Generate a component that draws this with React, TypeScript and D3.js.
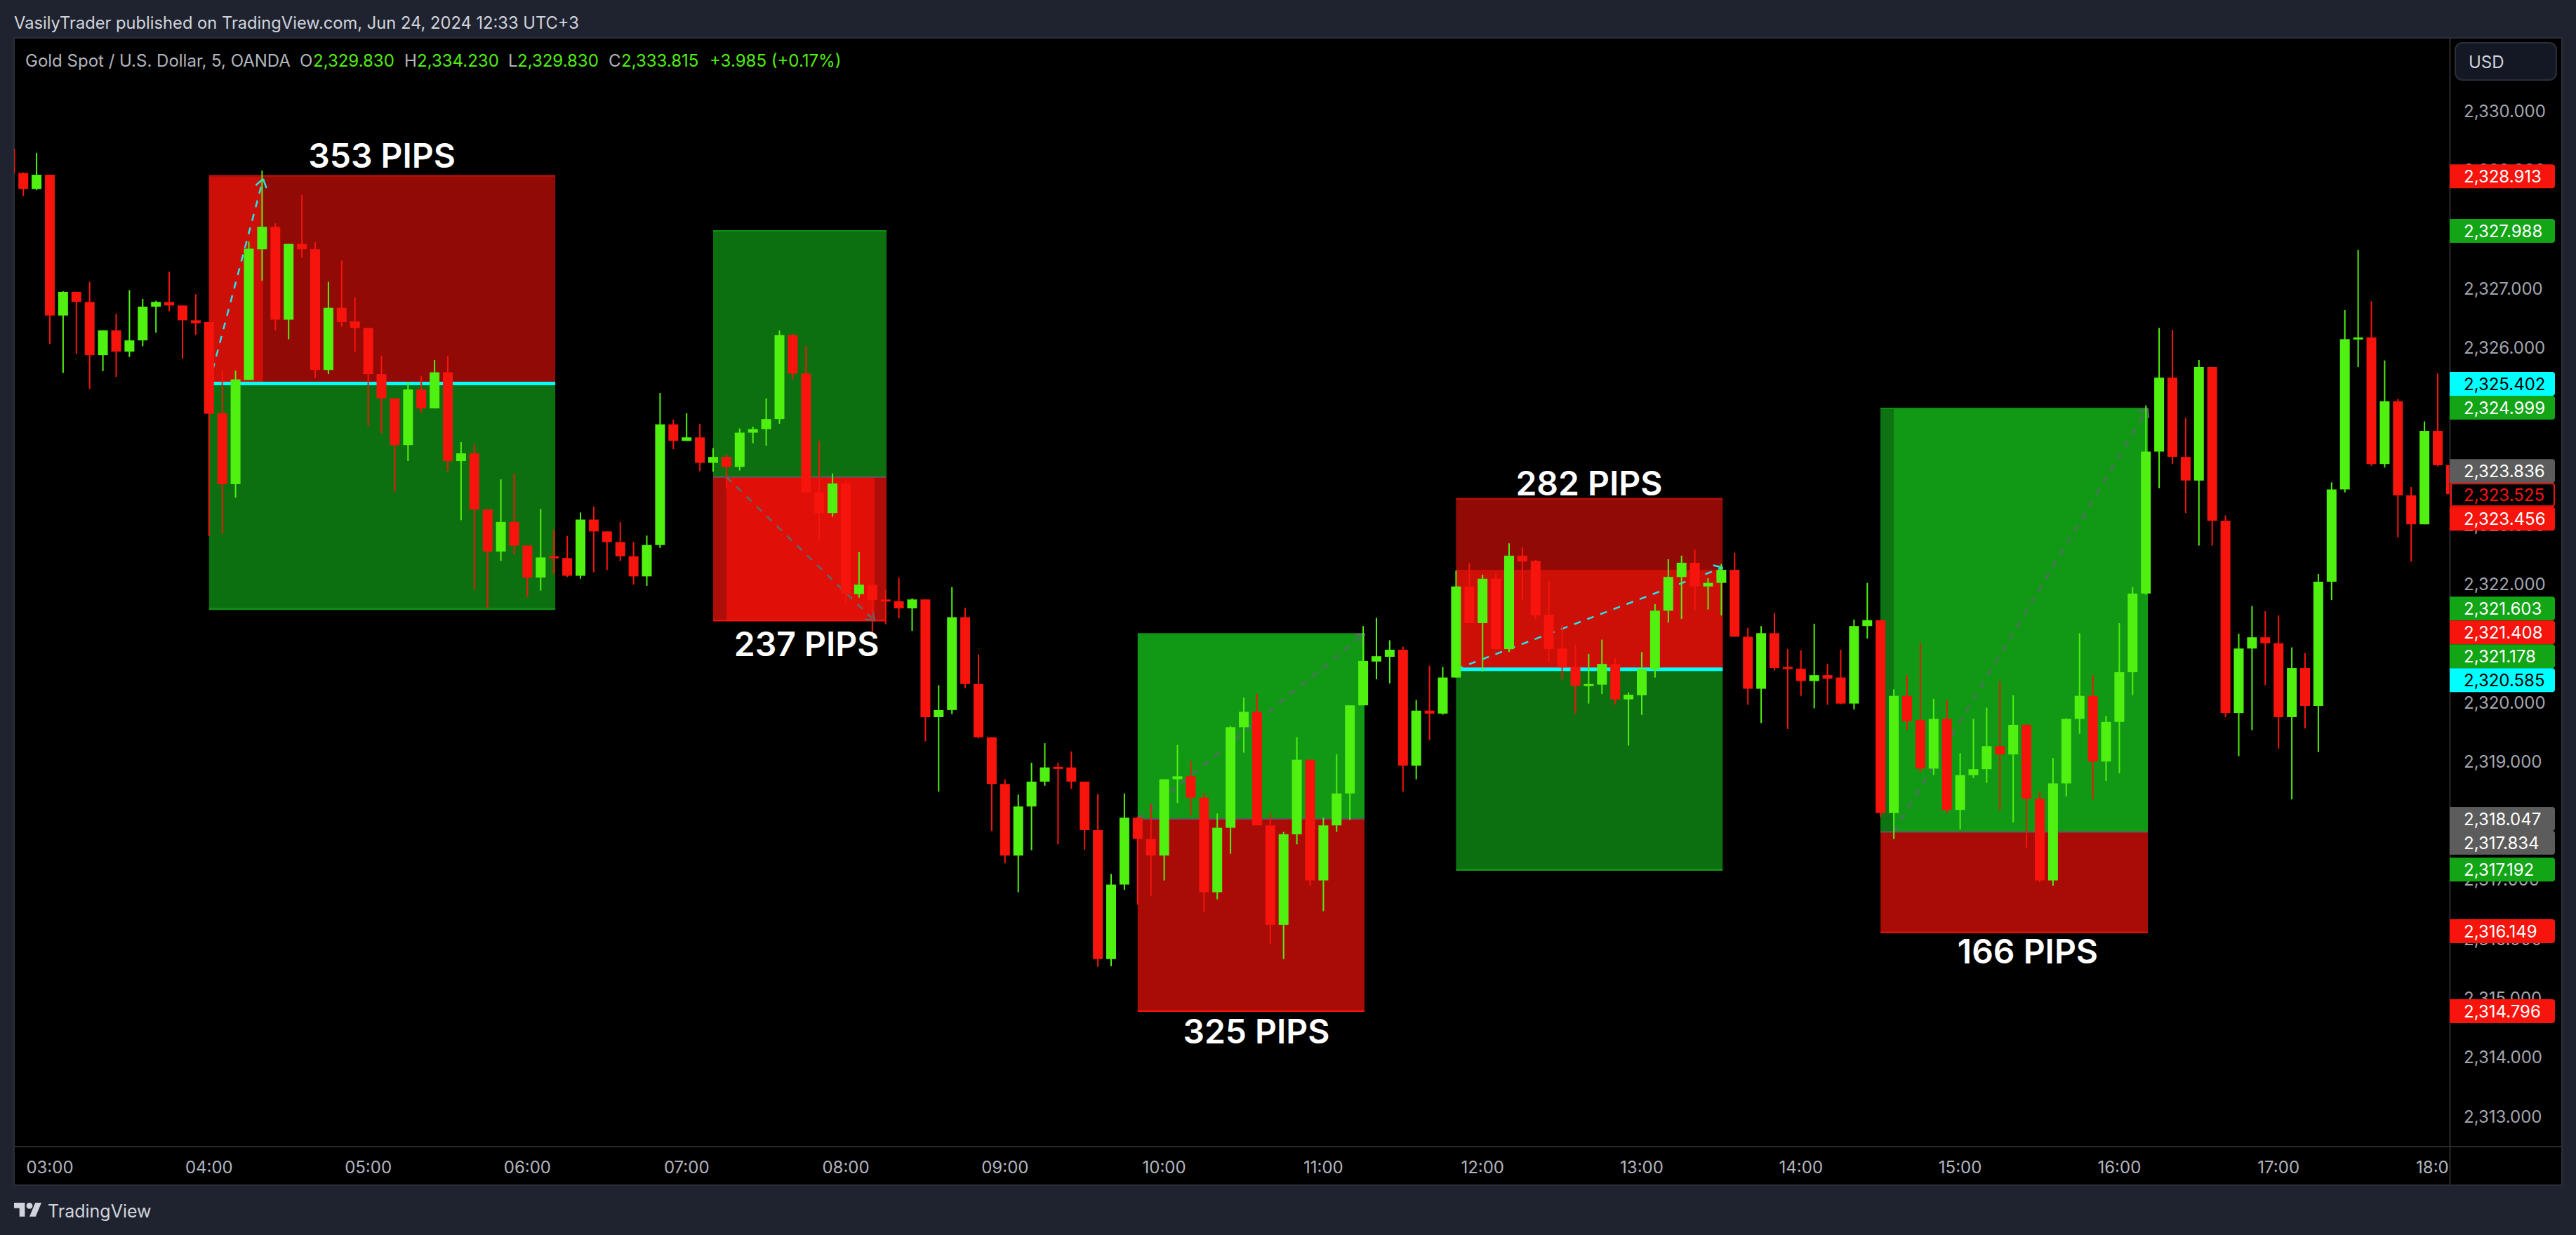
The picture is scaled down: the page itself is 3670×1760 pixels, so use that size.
import React, { useEffect, useRef } from 'react';
import * as d3 from 'd3';

const WIDTH = 3670;
const HEIGHT = 1760;

// bar -3 is the first one, partly cut off by the left edge of the chart
const firstBar = -3;

const opens = [
  2329.36,2328.95,2328.68,2328.92,2326.54,2326.94,2326.77,2325.87,2326.29,2325.93,
  2326.12,2326.69,2326.77,2326.71,2326.46,2326.43,2324.89,2323.69,2325.45,2327.66,
  2328.04,2326.47,2327.75,2327.66,2325.62,2326.67,2326.44,2326.33,2325.55,2325.14,
  2324.35,2325.29,2324.97,2325.58,2324.08,2324.21,2323.26,2322.55,2323.05,2322.65,
  2322.11,2322.47,2322.44,2322.14,2323.09,2322.89,2322.71,2322.47,2322.13,2322.66,
  2324.70,2324.42,2324.48,2324.05,2324.15,2323.98,2324.56,2324.62,2324.79,2326.21,
  2325.56,2323.55,2323.20,2323.70,2321.83,2321.99,2321.74,2321.71,2321.59,2321.74,
  2319.75,2319.87,2321.44,2320.31,2319.41,2318.62,2317.41,2318.24,2318.66,2318.91,
  2318.90,2318.66,2317.84,2315.66,2316.92,2318.05,2317.69,2317.41,2318.70,2318.75,
  2318.39,2316.79,2317.88,2319.58,2319.84,2317.92,2316.24,2317.77,2319.03,2316.99,
  2317.92,2318.46,2319.95,2320.69,2320.77,2320.89,2318.93,2319.86,2319.81,2320.42,
  2321.96,2321.34,2322.09,2320.90,2322.48,2322.39,2321.48,2320.91,2320.60,2320.28,
  2320.30,2320.65,2320.05,2320.12,2320.56,2321.55,2322.12,2322.36,2321.96,2322.02,
  2322.24,2321.11,2320.23,2321.17,2320.60,2320.57,2320.36,2320.46,2320.42,2319.98,
  2321.29,2321.39,2318.13,2320.11,2319.70,2318.88,2319.72,2318.18,2318.77,2318.87,
  2319.26,2319.12,2319.62,2318.37,2316.99,2318.63,2319.72,2320.11,2319.00,2319.67,
  2320.51,2321.84,2324.24,2325.49,2324.15,2323.75,2325.67,2323.07,2319.82,2320.91,
  2321.10,2321.00,2319.75,2320.58,2319.94,2322.04,2323.60,2326.15,2326.17,2324.03,
  2325.09,2323.50,2323.01,2324.59,2324.01,
];

const highs = [
  2329.36,2328.96,2329.29,2328.92,2326.95,2326.94,2327.11,2326.29,2326.57,2326.97,
  2326.82,2326.79,2327.28,2326.71,2326.90,2326.43,2325.60,2325.61,2327.79,2328.99,
  2328.10,2327.75,2328.58,2327.78,2327.11,2327.47,2326.85,2326.33,2325.86,2325.14,
  2325.42,2325.52,2325.79,2325.86,2324.40,2324.36,2323.26,2323.77,2323.87,2322.65,
  2323.27,2322.92,2322.81,2323.21,2323.31,2322.89,2323.05,2322.71,2322.82,2325.23,
  2324.78,2324.89,2324.71,2324.30,2324.19,2324.63,2324.66,2325.14,2326.29,2326.23,
  2326.03,2324.42,2323.87,2323.74,2322.54,2321.99,2321.90,2322.11,2321.76,2321.74,
  2320.29,2321.95,2321.60,2320.81,2319.41,2318.70,2318.44,2318.98,2319.31,2318.98,
  2319.17,2318.66,2318.45,2317.10,2318.46,2318.07,2318.28,2318.70,2319.28,2319.01,
  2318.47,2318.12,2319.60,2320.08,2320.14,2318.13,2317.81,2319.41,2319.03,2318.05,
  2319.12,2319.95,2321.29,2321.43,2321.05,2320.94,2320.04,2320.62,2320.60,2322.23,
  2322.35,2322.16,2322.18,2322.69,2322.62,2322.41,2322.05,2321.31,2320.97,2320.82,
  2321.06,2320.75,2320.17,2320.85,2321.66,2322.42,2322.48,2322.58,2322.10,2322.34,
  2322.53,2321.26,2321.29,2321.51,2320.90,2320.88,2321.33,2320.65,2320.89,2321.40,
  2322.02,2321.39,2320.22,2320.46,2321.01,2320.06,2320.04,2319.14,2319.72,2319.91,
  2320.36,2320.12,2319.63,2318.49,2319.06,2319.73,2321.17,2320.46,2319.77,2321.34,
  2321.95,2325.02,2326.33,2326.30,2324.81,2325.79,2325.67,2323.16,2321.16,2321.63,
  2321.54,2321.47,2320.93,2320.83,2322.17,2323.72,2326.63,2327.65,2326.78,2325.78,
  2325.13,2323.64,2324.75,2325.56,2324.01,
];

const lows = [
  2328.94,2328.56,2328.66,2326.06,2325.57,2325.89,2325.30,2325.60,2325.50,2325.84,
  2326.02,2326.25,2326.61,2325.81,2326.21,2322.81,2322.85,2323.46,2325.45,2327.13,
  2326.29,2326.14,2327.52,2325.48,2325.55,2326.35,2325.93,2324.67,2324.55,2323.56,
  2324.08,2324.90,2324.97,2323.91,2323.08,2321.90,2321.59,2322.39,2322.50,2321.78,
  2321.89,2322.17,2322.12,2322.09,2322.20,2322.24,2322.39,2321.99,2321.97,2322.61,
  2324.28,2324.42,2323.91,2323.90,2323.62,2323.92,2324.38,2324.34,2324.71,2325.46,
  2323.55,2322.74,2323.14,2321.69,2321.77,2321.16,2321.32,2321.42,2321.21,2319.34,
  2318.49,2319.80,2320.24,2319.39,2317.83,2317.28,2316.79,2317.50,2318.59,2317.60,
  2318.54,2317.51,2315.53,2315.54,2316.83,2316.58,2316.73,2316.99,2318.30,2318.09,
  2316.45,2316.67,2317.44,2319.15,2317.92,2315.92,2315.66,2317.60,2316.90,2316.47,
  2317.81,2318.01,2319.95,2320.39,2320.32,2318.49,2318.70,2319.36,2319.79,2320.42,
  2321.34,2320.52,2320.90,2320.85,2321.73,2321.41,2320.68,2320.39,2319.81,2319.98,
  2320.14,2319.96,2319.27,2319.79,2320.42,2321.35,2321.41,2321.55,2321.57,2321.47,
  2321.11,2319.96,2319.65,2320.54,2319.55,2320.11,2319.90,2319.96,2319.97,2319.88,
  2321.08,2318.06,2317.69,2319.53,2318.82,2318.77,2318.13,2317.85,2318.72,2318.64,
  2318.17,2317.97,2317.53,2316.96,2316.90,2318.41,2319.47,2318.36,2318.67,2318.80,
  2320.12,2321.82,2323.62,2324.03,2323.20,2322.65,2322.65,2319.75,2319.09,2319.53,
  2320.29,2319.22,2318.36,2319.56,2319.16,2321.73,2323.55,2325.67,2324.00,2323.97,
  2322.79,2322.38,2323.01,2323.99,2323.52,
];

const closes = [
  2328.94,2328.68,2328.92,2326.54,2326.94,2326.77,2325.87,2326.29,2325.93,2326.12,
  2326.69,2326.77,2326.71,2326.46,2326.41,2324.88,2323.69,2325.46,2327.67,2328.04,
  2326.47,2327.75,2327.66,2325.62,2326.67,2326.43,2326.33,2325.55,2325.14,2324.35,
  2325.29,2324.97,2325.58,2324.08,2324.21,2323.26,2322.55,2323.05,2322.65,2322.11,
  2322.45,2322.44,2322.14,2323.09,2322.89,2322.71,2322.47,2322.13,2322.66,2324.70,
  2324.42,2324.48,2324.05,2324.15,2323.98,2324.56,2324.62,2324.79,2326.21,2325.56,
  2323.55,2323.20,2323.70,2321.83,2321.99,2321.73,2321.73,2321.59,2321.74,2319.75,
  2319.87,2321.44,2320.31,2319.41,2318.62,2317.41,2318.24,2318.66,2318.90,2318.89,
  2318.66,2317.84,2315.66,2316.92,2318.05,2317.69,2317.41,2318.70,2318.75,2318.39,
  2316.79,2317.88,2319.58,2319.84,2317.92,2316.24,2317.77,2319.03,2316.99,2317.92,
  2318.46,2319.95,2320.70,2320.78,2320.89,2318.93,2319.86,2319.81,2320.42,2321.96,
  2321.34,2322.09,2320.90,2322.48,2322.38,2321.47,2320.90,2320.59,2320.28,2320.31,
  2320.65,2320.05,2320.13,2320.56,2321.55,2322.12,2322.36,2321.96,2322.02,2322.24,
  2321.11,2320.23,2321.17,2320.58,2320.58,2320.36,2320.46,2320.40,2319.98,2321.29,
  2321.39,2318.13,2320.11,2319.68,2318.88,2319.72,2318.18,2318.77,2318.87,2319.26,
  2319.12,2319.62,2318.37,2316.99,2318.63,2319.72,2320.11,2319.00,2319.67,2320.51,
  2321.84,2324.24,2325.49,2324.15,2323.75,2325.67,2323.07,2319.82,2320.91,2321.10,
  2321.00,2319.75,2320.58,2319.94,2322.04,2323.60,2326.14,2326.17,2324.03,2325.09,
  2323.50,2323.01,2324.59,2324.01,2323.52,
];

const timeLabels = ['03:00','04:00','05:00','06:00','07:00','08:00','09:00','10:00','11:00','12:00','13:00','14:00','15:00','16:00','17:00','18:00'];
const barsPerHour = 12;

// only the ticks that can be seen; 2,325 2,324 2,321 and 2,318 sit behind the tags
const priceTicks = [2330,2329,2327,2326,2323,2322,2320,2319,2317,2316,2315,2314,2313];

const tagPrices = [2328.913,2327.988,2325.402,2324.999,2323.836,2323.525,2323.456,2321.603,2321.408,2321.178,2320.585,2318.047,2317.834,2317.192,2316.149,2314.796];
const tagKinds = ['red','green','cyan','green','gray','last','red','green','red','green','cyan','gray','gray','green','red','red'];

// position tools, bars and prices
const toolStart = [12, 50, 82, 106, 138];
const toolEnd = [38.1, 63.07, 99.1, 126.1, 158.15];
const toolTop = [2328.9, 2327.97, 2321.16, 2323.44, 2324.97];
const toolEntry = [2325.39, 2323.81, 2318.03, 2320.56, 2317.81];
const toolBottom = [2321.58, 2321.38, 2314.78, 2317.17, 2316.11];

const pipTexts = ['353 PIPS','237 PIPS','325 PIPS','282 PIPS','166 PIPS'];
const pipBars = [25.03, 57.04, 90.95, 116.03, 149.1];
const pipPrices = [2329.24, 2320.99, 2314.44, 2323.7, 2315.79];

const legendTitle = 'Gold Spot / U.S. Dollar, 5, OANDA';
const legendValues = [['O','2,329.830'],['H','2,334.230'],['L','2,329.830'],['C','2,333.815']];
const legendChange = '+3.985 (+0.17%)';

const GREEN = '#50f010';
const RED = '#f7140c';
const FONT = 'Inter, Roboto, sans-serif';

const App: React.FC = () => {
  const svgRef = useRef<SVGSVGElement>(null);

  useEffect(() => {
    if (!svgRef.current) return;
    const svg = d3.select(svgRef.current);
    svg.selectAll('*').remove();

    const x = d3.scaleLinear().domain([0, 180]).range([71, 3473]);
    const y = d3.scaleLinear().domain([2330, 2313]).range([158, 1591]);

    svg.append('rect').attr('width', WIDTH).attr('height', HEIGHT).attr('fill', '#1f2330');
    svg.append('rect').attr('x', 20).attr('y', 54).attr('width', 3630).attr('height', 1635)
      .attr('fill', '#000').attr('stroke', '#2a2e39').attr('stroke-width', 2);

    const defs = svg.append('defs');
    defs.append('clipPath').attr('id', 'pane').append('rect')
      .attr('x', 20).attr('y', 55).attr('width', 3470).attr('height', 1578);
    defs.append('clipPath').attr('id', 'timeaxis').append('rect')
      .attr('x', 21).attr('y', 1636).attr('width', 3469).attr('height', 52);

    const pane = svg.append('g').attr('clip-path', 'url(#pane)');

    const zone = (x0: number, x1: number, p0: number, p1: number, fill: string) => {
      pane.append('rect')
        .attr('x', x(x0)).attr('y', y(p0))
        .attr('width', x(x1) - x(x0)).attr('height', y(p1) - y(p0))
        .attr('fill', fill);
    };
    const edge = (x0: number, x1: number, p: number, color: string, w = 3) => {
      pane.append('line')
        .attr('x1', x(x0)).attr('x2', x(x1)).attr('y1', y(p)).attr('y2', y(p))
        .attr('stroke', color).attr('stroke-width', w);
    };

    const darkRed = '#920a05';
    const midRed = '#cc1008';
    const wineRed = '#a90c07';
    const brightRed = '#e01009';
    const stripRed = '#ae0d08';
    const darkGreen = '#0d7010';
    const brightGreen = '#119915';

    // first tool: short trade, the brighter part is where the price moved
    zone(toolStart[0], toolEnd[0], toolTop[0], toolEntry[0], darkRed);
    zone(toolStart[0], 16.08, toolTop[0], toolEntry[0], midRed);
    zone(toolStart[0], toolEnd[0], toolEntry[0], toolBottom[0], darkGreen);
    edge(toolStart[0], toolEnd[0], toolTop[0], '#ad1009');
    edge(toolStart[0], toolEnd[0], toolBottom[0], '#118c15');
    edge(toolStart[0], toolEnd[0], toolEntry[0], '#00ffff', 5);

    // second tool
    zone(toolStart[1], toolEnd[1], toolTop[1], toolEntry[1], darkGreen);
    zone(toolStart[1], toolEnd[1], toolEntry[1], toolBottom[1], stripRed);
    zone(51, 62.17, toolEntry[1], toolBottom[1], brightRed);
    edge(toolStart[1], toolEnd[1], toolTop[1], '#118c15', 2);
    edge(toolStart[1], toolEnd[1], toolBottom[1], RED, 2);
    edge(toolStart[1], toolEnd[1], toolEntry[1], '#5c5c5c', 2);

    // third tool
    zone(toolStart[2], toolEnd[2], toolTop[2], toolEntry[2], brightGreen);
    zone(toolStart[2], toolEnd[2], toolEntry[2], toolBottom[2], wineRed);
    edge(toolStart[2], toolEnd[2], toolTop[2], '#118c15', 2);
    edge(toolStart[2], toolEnd[2], toolBottom[2], RED, 2);
    edge(toolStart[2], toolEnd[2], toolEntry[2], '#5c5c5c', 2);

    // fourth tool
    zone(toolStart[3], toolEnd[3], toolTop[3], toolEntry[3], darkRed);
    zone(toolStart[3], toolEnd[3], 2322.24, toolEntry[3], midRed);
    zone(toolStart[3], toolEnd[3], toolEntry[3], toolBottom[3], darkGreen);
    edge(toolStart[3], toolEnd[3], toolTop[3], '#ad1009');
    edge(toolStart[3], toolEnd[3], toolBottom[3], '#118c15');
    edge(toolStart[3], toolEnd[3], toolEntry[3], '#00ffff', 5);

    // fifth tool
    zone(toolStart[4], toolEnd[4], toolTop[4], toolEntry[4], brightGreen);
    zone(toolStart[4], 139, toolTop[4], toolEntry[4], '#0e7312');
    zone(toolStart[4], toolEnd[4], toolEntry[4], toolBottom[4], wineRed);
    edge(toolStart[4], toolEnd[4], toolTop[4], '#118c15', 2);
    edge(toolStart[4], toolEnd[4], toolBottom[4], RED, 2);
    edge(toolStart[4], toolEnd[4], toolEntry[4], '#5c5c5c', 2);

    // dashed arrows from the entry to the end of the move
    const arrow = (b0: number, p0: number, b1: number, p1: number, color: string) => {
      const ax = x(b0), ay = y(p0), bx = x(b1), by = y(p1);
      pane.append('line')
        .attr('x1', ax).attr('y1', ay).attr('x2', bx).attr('y2', by)
        .attr('stroke', color).attr('stroke-width', 2.5).attr('stroke-dasharray', '10,10');
      const angle = Math.atan2(by - ay, bx - ax);
      [-0.6, 0.6].forEach(da => {
        pane.append('line')
          .attr('x1', bx).attr('y1', by)
          .attr('x2', bx - 14 * Math.cos(angle + da)).attr('y2', by - 14 * Math.sin(angle + da))
          .attr('stroke', color).attr('stroke-width', 2.5);
      });
    };
    arrow(toolStart[0], toolEntry[0], 16.08, 2328.85, '#1fe8f0');
    arrow(51, toolEntry[1], 62.17, toolBottom[1], '#5a6a6a');
    arrow(toolStart[2], toolEntry[2], toolEnd[2], toolTop[2], '#5a6a6a');
    arrow(toolStart[3], toolEntry[3], toolEnd[3], 2322.28, '#1fe8f0');
    arrow(139, toolEntry[4], toolEnd[4], toolTop[4], '#5a6a6a');

    // candles
    const bars = d3.range(opens.length).map(i => ({
      bar: i + firstBar,
      open: opens[i],
      high: highs[i],
      low: lows[i],
      close: closes[i],
    }));
    const candle = pane.selectAll('g.candle').data(bars).enter().append('g').attr('class', 'candle')
      .attr('fill', d => (d.close >= d.open ? GREEN : RED))
      .attr('stroke', d => (d.close >= d.open ? GREEN : RED));
    candle.append('line')
      .attr('x1', d => x(d.bar)).attr('x2', d => x(d.bar))
      .attr('y1', d => y(d.high)).attr('y2', d => y(d.low))
      .attr('stroke-width', 2);
    candle.append('rect')
      .attr('x', d => x(d.bar) - 7).attr('width', 14)
      .attr('y', d => y(Math.max(d.open, d.close)))
      .attr('height', d => Math.max(3, Math.abs(y(d.open) - y(d.close))))
      .attr('stroke', 'none');

    // PIPS captions
    pipTexts.forEach((t, i) => {
      pane.append('text')
        .attr('x', x(pipBars[i])).attr('y', y(pipPrices[i])).attr('dy', '0.36em')
        .attr('text-anchor', 'middle')
        .attr('font-family', FONT).attr('font-size', 48).attr('font-weight', 600)
        .attr('fill', '#fff')
        .text(t);
    });

    // pane and scale separators
    svg.append('line').attr('x1', 3490.5).attr('x2', 3490.5).attr('y1', 55).attr('y2', 1688).attr('stroke', '#2a2a2e').attr('stroke-width', 2);
    svg.append('line').attr('x1', 21).attr('x2', 3649).attr('y1', 1634).attr('y2', 1634).attr('stroke', '#2a2a2e').attr('stroke-width', 2);

    // time axis
    const timeAxis = svg.append('g').attr('clip-path', 'url(#timeaxis)');
    timeLabels.forEach((t, i) => {
      timeAxis.append('text')
        .attr('x', x(i * barsPerHour)).attr('y', 1663).attr('dy', '0.36em')
        .attr('text-anchor', 'middle')
        .attr('font-family', FONT).attr('font-size', 24).attr('fill', '#b2b5be')
        .text(t);
    });

    // price axis
    const fmt = d3.format(',.3f');
    priceTicks.forEach(p => {
      svg.append('text')
        .attr('x', 3510).attr('y', y(p)).attr('dy', '0.36em')
        .attr('font-family', FONT).attr('font-size', 24).attr('fill', '#a3a6af')
        .text(fmt(p));
    });

    // price tags: the last price stays put, the others are pushed away from it
    const tagH = 34;
    const tagY = tagPrices.map(p => y(p) + 1.5);
    const pin = tagKinds.indexOf('last');
    for (let i = 1; i < pin; i++) tagY[i] = Math.max(tagY[i], tagY[i - 1] + tagH);
    for (let i = pin - 1; i >= 0; i--) tagY[i] = Math.min(tagY[i], tagY[i + 1] - tagH);
    for (let i = pin + 1; i < tagY.length; i++) tagY[i] = Math.max(tagY[i], tagY[i - 1] + tagH);

    const tagFill: Record<string, string> = { red: RED, green: '#12a516', cyan: '#00ffff', gray: '#5c5c5c', last: '#000' };
    tagPrices.forEach((p, i) => {
      const kind = tagKinds[i];
      const top = tagY[i] - tagH / 2;
      const g = svg.append('g');
      if (kind === 'last') {
        g.append('path')
          .attr('d', `M3492 ${top + 1}H3636a3 3 0 0 1 3 3V${top + tagH - 4}a3 3 0 0 1 -3 3H3492Z`)
          .attr('fill', '#000').attr('stroke', RED).attr('stroke-width', 2);
      } else {
        g.append('path')
          .attr('d', `M3490 ${top}H3636a4 4 0 0 1 4 4V${top + tagH - 4}a4 4 0 0 1 -4 4H3490Z`)
          .attr('fill', tagFill[kind]);
      }
      g.append('text')
        .attr('x', 3510).attr('y', tagY[i]).attr('dy', '0.36em')
        .attr('font-family', FONT).attr('font-size', 24)
        .attr('fill', kind === 'cyan' ? '#000' : kind === 'last' ? RED : '#fff')
        .text(fmt(p));
    });

    // currency button
    svg.append('rect').attr('x', 3498).attr('y', 61).attr('width', 144).attr('height', 53).attr('rx', 10)
      .attr('fill', '#141824').attr('stroke', '#2a2e39').attr('stroke-width', 2);
    svg.append('text').attr('x', 3517).attr('y', 88).attr('dy', '0.36em')
      .attr('font-family', FONT).attr('font-size', 24).attr('fill', '#d1d4dc').text('USD');

    // header
    svg.append('text').attr('x', 20).attr('y', 32).attr('dy', '0.36em')
      .attr('font-family', FONT).attr('font-size', 23.7).attr('fill', '#d1d4dc')
      .text('VasilyTrader published on TradingView.com, Jun 24, 2024 12:33 UTC+3');

    // legend
    const legend = (lx: number, s: string, color: string) => {
      svg.append('text').attr('x', lx).attr('y', 86).attr('dy', '0.36em')
        .attr('font-family', FONT).attr('font-size', 24).attr('fill', color).text(s);
    };
    legend(36, legendTitle, '#b2b5be');
    const letterX = [427, 576, 724, 867];
    const valueX = [446, 594, 737, 885];
    legendValues.forEach(([k, v], i) => {
      legend(letterX[i], k, '#b2b5be');
      legend(valueX[i], v, GREEN);
    });
    legend(1011, legendChange, GREEN);

    // footer
    svg.append('g').attr('transform', 'translate(20,1709.6) scale(1.1)').attr('fill', '#d1d4dc')
      .call(g => {
        g.append('path').attr('d', 'M14 22H7V11H0V4h14v18zM28 22h-8l7.5-18h8L28 22z');
        g.append('circle').attr('cx', 20).attr('cy', 8).attr('r', 4);
      });
    svg.append('text').attr('x', 68).attr('y', 1726).attr('dy', '0.36em')
      .attr('font-family', FONT).attr('font-size', 25).attr('fill', '#d1d4dc').text('TradingView');
  }, []);

  return (
    <svg
      ref={svgRef}
      width={WIDTH}
      height={HEIGHT}
      viewBox={`0 0 ${WIDTH} ${HEIGHT}`}
      style={{ position: 'absolute', left: 0, top: 0, display: 'block' }}
    />
  );
};

export default App;
